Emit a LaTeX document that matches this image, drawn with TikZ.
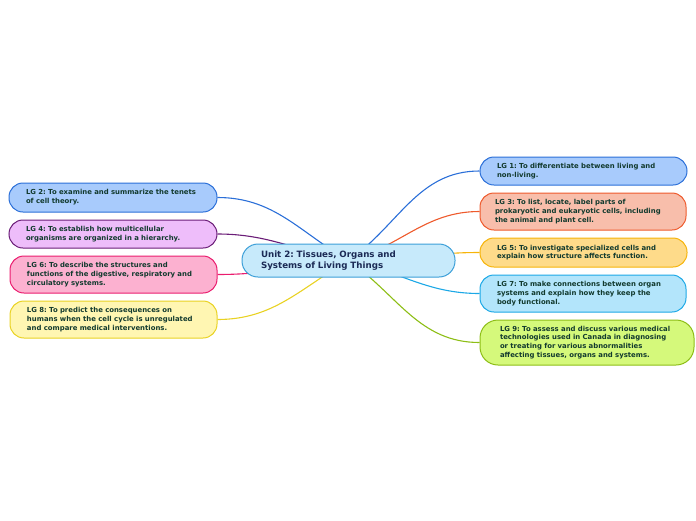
\documentclass[tikz,border=0pt]{standalone}
\usepackage{fontspec}
\setmainfont{DejaVu Sans}
\usetikzlibrary{backgrounds}
\frenchspacing
\definecolor{leaftext}{HTML}{123A2E}
\definecolor{roottext}{HTML}{1B2A55}
\definecolor{fBlue}{HTML}{A8CBFC}\definecolor{dBlue}{HTML}{2B6FD8}
\definecolor{fRed}{HTML}{F8BEAB}\definecolor{dRed}{HTML}{EE5A2C}
\definecolor{fYel}{HTML}{FEDB8A}\definecolor{dYel}{HTML}{F6B40A}
\definecolor{fCyan}{HTML}{B3E5FB}\definecolor{dCyan}{HTML}{1CA8E6}
\definecolor{fGreen}{HTML}{D5F97B}\definecolor{dGreen}{HTML}{8DBE16}
\definecolor{fPurp}{HTML}{EEBDFA}\definecolor{dPurp}{HTML}{6B1D78}
\definecolor{fPink}{HTML}{FCB1D0}\definecolor{dPink}{HTML}{EA1C6E}
\definecolor{fLYel}{HTML}{FFF6B2}\definecolor{dLYel}{HTML}{E9D223}
\definecolor{fRoot}{HTML}{C7EAFB}\definecolor{dRoot}{HTML}{3C9FD8}
\tikzset{
  leaf/.style={draw, line width=1pt, rounded corners=14pt, align=left,
    inner xsep=17pt, inner ysep=2pt, anchor=center,
    font=\frenchspacing\bfseries\fontsize{6.9}{8.8}\selectfont, text=leaftext},
  root/.style={draw, line width=1pt, rounded corners=16pt, align=left,
    inner xsep=19pt, inner ysep=2pt, minimum width=213pt, minimum height=33pt,
    text width=175pt, font=\frenchspacing\bfseries\fontsize{8.7}{11}\selectfont, text=roottext,
    fill=fRoot, draw=dRoot},
  conn/.style={line width=1.1pt}
}
\begin{document}
\begin{tikzpicture}[x=1pt,y=-1pt]
\useasboundingbox (0,0) rectangle (696,520);
\node[root] (c) at (348.5,260.5) {Unit 2: Tissues, Organs and\\Systems of Living Things};
% right side
\node[leaf, fill=fBlue, draw=dBlue, minimum width=207pt, minimum height=28pt, text width=173pt] (l1) at (583.5,171) {LG 1: To differentiate between living and\\non-living.};
\node[leaf, fill=fRed, draw=dRed, minimum width=206pt, minimum height=37pt, text width=172pt, inner xsep=15pt, text width=176pt] (l3) at (583,211.5) {LG 3: To list, locate, label parts of\\prokaryotic and eukaryotic cells, including\\the animal and plant cell.};
\node[leaf, fill=fYel, draw=dYel, minimum width=207pt, minimum height=29pt, text width=173pt] (l5) at (583.5,252.5) {LG 5: To investigate specialized cells and\\explain how structure affects function.};
\node[leaf, fill=fCyan, draw=dCyan, minimum width=206pt, minimum height=37pt, text width=172pt] (l7) at (583,293.5) {LG 7: To make connections between organ\\systems and explain how they keep the\\body functional.};
\node[leaf, fill=fGreen, draw=dGreen, minimum width=214pt, minimum height=45pt, text width=174pt, inner xsep=20pt, rounded corners=18pt] (l9) at (587,342.5) {LG 9: To assess and discuss various medical\\technologies used in Canada in diagnosing\\or treating for various abnormalities\\affecting tissues, organs and systems.};
% left side
\node[leaf, fill=fBlue, draw=dBlue, minimum width=208pt, minimum height=29pt, text width=174pt] (l2) at (113,197.5) {LG 2: To examine and summarize the tenets\\of cell theory.};
\node[leaf, fill=fPurp, draw=dPurp, minimum width=208pt, minimum height=28pt, text width=174pt] (l4) at (113,234) {LG 4: To establish how multicellular\\organisms are organized in a hierarchy.};
\node[leaf, fill=fPink, draw=dPink, minimum width=207pt, minimum height=37pt, text width=173pt] (l6) at (113.5,274.5) {LG 6: To describe the structures and\\functions of the digestive, respiratory and\\circulatory systems.};
\node[leaf, fill=fLYel, draw=dLYel, minimum width=207pt, minimum height=37pt, text width=173pt] (l8) at (113.5,319.5) {LG 8: To predict the consequences on\\humans when the cell cycle is unregulated\\and compare medical interventions.};
\begin{scope}[on background layer]
\draw[conn, dBlue] (c.center) to[out=35, in=180, looseness=1] (l1.west);
\draw[conn, dRed] (c.center) to[out=15, in=180, looseness=1] (l3.west);
\draw[conn, dYel] (c.center) to[out=0, in=180] (l5.west);
\draw[conn, dCyan] (c.center) to[out=-12, in=180, looseness=1] (l7.west);
\draw[conn, dGreen] (c.center) to[out=-35, in=180, looseness=1] (l9.west);
\draw[conn, dBlue] (c.center) to[out=150, in=0, looseness=1] (l2.east);
\draw[conn, dPurp] (c.center) to[out=170, in=0, looseness=1] (l4.east);
\draw[conn, dPink] (c.center) to[out=186, in=0, looseness=1] (l6.east);
\draw[conn, dLYel] (c.center) to[out=210, in=0, looseness=1] (l8.east);
\end{scope}
\end{tikzpicture}
\end{document}
